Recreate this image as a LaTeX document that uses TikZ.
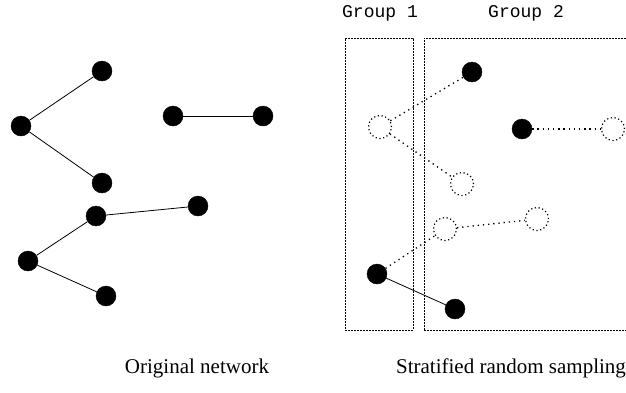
\documentclass[tikz,border=0pt]{standalone}
\usepackage{fontspec}
\setmainfont{Liberation Serif}
\setmonofont{Liberation Mono}
\usetikzlibrary{positioning}

\begin{document}
\begin{tikzpicture}[x=1bp, y=-1bp]
\tikzset{
    vertex/.style={circle, fill=black, draw=black, inner sep=0pt, minimum size=20bp},
    hidden/.style={circle, draw=black, line width=1.2bp, dash pattern=on 1.2bp off 2.6bp, inner sep=0pt, minimum size=23bp},
    link/.style={draw=black, line width=0.8bp},
    sampled/.style={draw=black, line width=1.3bp, dash pattern=on 1.3bp off 3.9bp},
    group/.style={rectangle, draw=black, line width=0.8bp, dash pattern=on 2bp off 1bp, inner sep=0pt},
    grouplabel/.style={font=\ttfamily\fontsize{18bp}{21bp}\selectfont, inner sep=0pt},
    caption/.style={font=\fontsize{21bp}{25bp}\selectfont, inner sep=0pt}
}
\useasboundingbox (0,0) rectangle (626,392);

% original network
\node[vertex] (a) at (102,71)  {};
\node[vertex] (b) at (21,126)  {};
\node[vertex] (c) at (102,183) {};
\node[vertex] (d) at (173,116) {};
\node[vertex] (e) at (263,116) {};
\node[vertex] (f) at (96,216)  {};
\node[vertex] (g) at (198,206) {};
\node[vertex] (h) at (28,261)  {};
\node[vertex] (i) at (106,296) {};

\draw[link] (b) -- (a);
\draw[link] (b) -- (c);
\draw[link] (d) -- (e);
\draw[link] (f) -- (g);
\draw[link] (h) -- (f);
\draw[link] (h) -- (i);

% groups
\node[group, minimum width=68bp, minimum height=292bp]  (grp1) at (379,184) {};
\node[group, minimum width=204bp, minimum height=292bp] (grp2) at (526,184) {};
\node[grouplabel] (lab1) at (380,13) {Group 1};
\node[grouplabel] (lab2) at (526,13) {Group 2};

% stratified sample
\node[vertex] (sa) at (472,72)  {};
\node[hidden] (sb) at (380,127) {};
\node[hidden] (sc) at (462,184) {};
\node[vertex] (sd) at (522,129) {};
\node[hidden] (se) at (613,129) {};
\node[hidden] (sf) at (445,229) {};
\node[hidden] (sg) at (537,219) {};
\node[vertex] (sh) at (377,274) {};
\node[vertex] (si) at (455,309) {};

\draw[sampled] (sb) -- (sa);
\draw[sampled] (sb) -- (sc);
\draw[sampled] (sd) -- (se);
\draw[sampled] (sf) -- (sg);
\draw[sampled] (sh) -- (sf);
\draw[link] (sh) -- (si);

% captions
\node[caption] (cap1) at (197,368) {Original network};
\node[caption] (cap2) at (511,368) {Stratified random sampling};

\end{tikzpicture}
\end{document}
